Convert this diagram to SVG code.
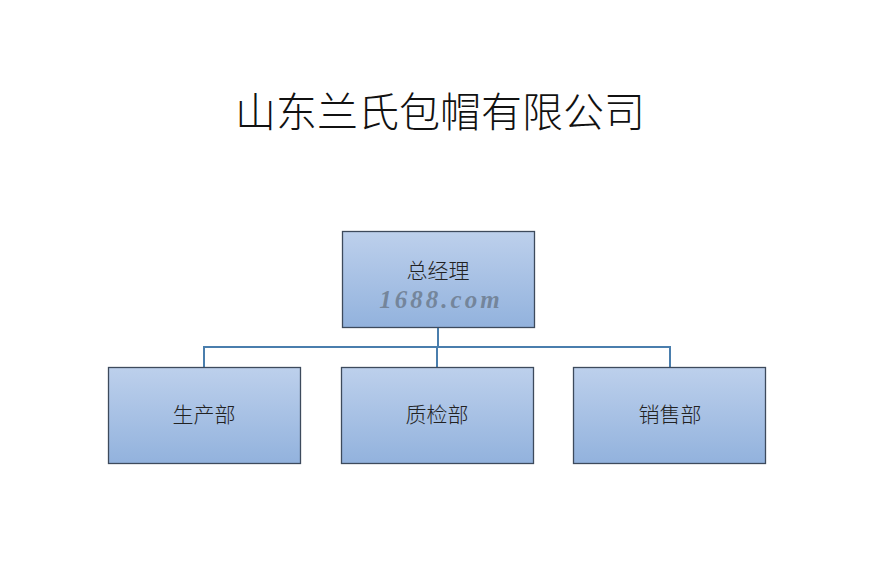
<svg xmlns="http://www.w3.org/2000/svg" width="880" height="586" viewBox="0 0 880 586">
<defs>
<linearGradient id="g" x1="0" y1="0" x2="0" y2="1">
<stop offset="0" stop-color="#bdd0ec"/>
<stop offset="1" stop-color="#92b2dd"/>
</linearGradient>
<style>
.box{fill:url(#g);stroke:#3d4a5c;stroke-width:1.3}
.lbl{font-family:"Noto Sans CJK SC",sans-serif;font-size:21px;font-weight:300;fill:#222;text-anchor:middle}
.conn{fill:none;stroke:#4a7ead;stroke-width:2}
</style>
</defs>
<rect width="880" height="586" fill="#fff"/>
<text x="440" y="127" font-family="'Noto Sans CJK SC',sans-serif" font-size="41" font-weight="300" fill="#111" text-anchor="middle">山东兰氏包帽有限公司</text>
<g id="connectors">
<path class="conn" d="M438 327V347M204 367V347H670V367M437 347V367"/>
</g>
<g id="n0"><rect class="box" x="342.5" y="231.5" width="192" height="96"/><text class="lbl" x="438" y="278">总经理</text></g>
<g id="n1"><rect class="box" x="108.5" y="367.5" width="192" height="96"/><text class="lbl" x="204" y="422">生产部</text></g>
<g id="n2"><rect class="box" x="341.5" y="367.5" width="192" height="96"/><text class="lbl" x="437" y="422">质检部</text></g>
<g id="n3"><rect class="box" x="573.5" y="367.5" width="192" height="96"/><text class="lbl" x="670" y="422">销售部</text></g>
<text x="441" y="308" font-family="'Liberation Serif',serif" font-size="25" font-weight="bold" font-style="italic" fill="#6d7c8f" fill-opacity="0.85" text-anchor="middle" letter-spacing="3">1688.com</text>
</svg>
